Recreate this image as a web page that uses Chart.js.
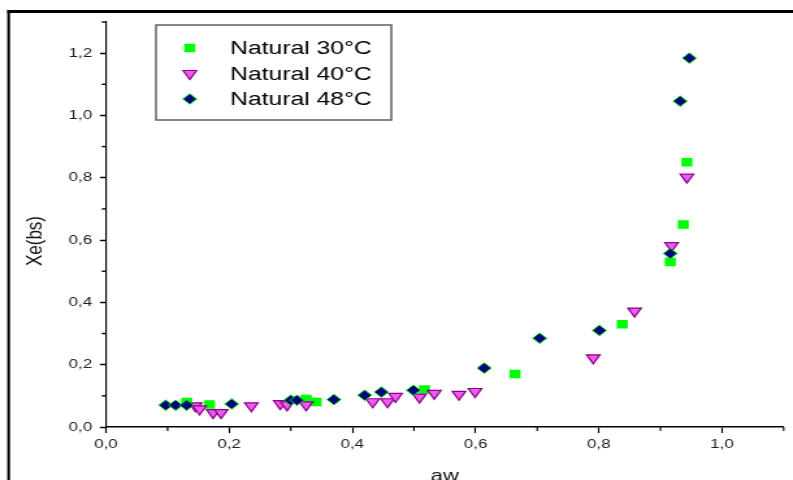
<!DOCTYPE html>
<html>
<head>
<meta charset="utf-8">
<script src="https://cdn.jsdelivr.net/npm/chart.js@4/dist/chart.umd.min.js"></script>
<style>
html,body{margin:0;padding:0;background:#fff;overflow:hidden}
#wrap{position:relative;width:793px;height:480px;overflow:hidden;background:#fff}
#c{position:absolute;left:0;top:0;transform:scaleX(1.3);transform-origin:0 0}
</style>
</head>
<body>
<div id="wrap"><canvas id="c" width="610" height="480"></canvas></div>
<script>
// ---- data ----
const seriesNames = ['Natural 30°C', 'Natural 40°C', 'Natural 48°C'];
const xTitle = 'aw';
const yTitle = 'Xe(bs)';

const aw30 = [0.131, 0.168, 0.325, 0.341, 0.517, 0.664, 0.838, 0.916, 0.937, 0.943];
const xe30 = [0.080, 0.072, 0.090, 0.080, 0.120, 0.170, 0.330, 0.530, 0.650, 0.850];

const aw40 = [0.145, 0.152, 0.174, 0.187, 0.236, 0.283, 0.294, 0.325, 0.433, 0.457, 0.470, 0.509, 0.533, 0.573, 0.599, 0.791, 0.858, 0.918, 0.943];
const xe40 = [0.068, 0.058, 0.046, 0.046, 0.068, 0.075, 0.071, 0.071, 0.081, 0.081, 0.098, 0.096, 0.108, 0.105, 0.114, 0.222, 0.372, 0.582, 0.802];

const aw48 = [0.097, 0.113, 0.131, 0.204, 0.300, 0.310, 0.370, 0.420, 0.447, 0.499, 0.614, 0.704, 0.801, 0.916, 0.932, 0.947];
const xe48 = [0.070, 0.070, 0.070, 0.074, 0.086, 0.086, 0.088, 0.102, 0.112, 0.118, 0.189, 0.285, 0.310, 0.557, 1.046, 1.184];

const xTicks = [0, 0.2, 0.4, 0.6, 0.8, 1.0];
const yTicks = [0, 0.2, 0.4, 0.6, 0.8, 1.0, 1.2];
const xMinor = [0.1, 0.3, 0.5, 0.7, 0.9, 1.1];
const yMinor = [0.1, 0.3, 0.5, 0.7, 0.9, 1.1, 1.3];

const pts = (xs, ys) => xs.map((x, i) => ({x: x, y: ys[i]}));
const fmt = v => Number(v).toFixed(1).replace('.', ',');
const FONT = "'Liberation Sans', Arial, sans-serif";

const datasets = [
  {label: seriesNames[0], data: pts(aw30, xe30), pointStyle: 'rect', pointRadius: 6, pointHoverRadius: 6,
   backgroundColor: '#00ff00', borderColor: '#22ff22', borderWidth: 0, order: 3},
  {label: seriesNames[1], data: pts(aw40, xe40), pointStyle: 'triangle', pointRotation: 180, pointRadius: 6, pointHoverRadius: 6,
   backgroundColor: '#ee5bee', borderColor: '#8b008b', borderWidth: 1.2, order: 2},
  {label: seriesNames[2], data: pts(aw48, xe48), pointStyle: 'rectRot', pointRadius: 5.3, pointHoverRadius: 5.3,
   backgroundColor: '#000080', borderColor: '#00dd00', borderWidth: 1, order: 1}
];

function drawMarker(c, ds, x, y) {
  c.save();
  c.fillStyle = ds.backgroundColor;
  c.strokeStyle = ds.borderColor;
  c.lineWidth = ds.borderWidth;
  const opts = {pointStyle: ds.pointStyle, radius: ds.pointRadius, rotation: ds.pointRotation || 0, borderWidth: ds.borderWidth};
  if (Chart.helpers && Chart.helpers.drawPoint) {
    Chart.helpers.drawPoint(c, opts, x, y);
  } else {
    c.beginPath(); c.arc(x, y, ds.pointRadius, 0, Math.PI * 2); c.fill();
  }
  c.restore();
}

const decor = {
  id: 'decor',
  beforeDraw(chart) {
    const c = chart.ctx;
    c.save();
    c.fillStyle = '#fff';
    c.fillRect(0, 0, chart.width, chart.height);
    c.restore();
  },
  afterDraw(chart) {
    const c = chart.ctx;
    const xs = chart.scales.x, ys = chart.scales.y;
    const x0 = xs.left, y0 = ys.bottom;
    c.save();
    c.strokeStyle = '#000';
    // minor ticks
    c.lineWidth = 1.15;
    xMinor.forEach(v => {
      const p = xs.getPixelForValue(v);
      c.beginPath(); c.moveTo(p, y0); c.lineTo(p, y0 + 4); c.stroke();
    });
    c.lineWidth = 1.4;
    yMinor.forEach(v => {
      const p = ys.getPixelForValue(v);
      c.beginPath(); c.moveTo(x0, p); c.lineTo(x0 - 3.2, p); c.stroke();
    });
    // axis titles
    c.fillStyle = '#111';
    c.font = '17px ' + FONT;
    c.textAlign = 'center';
    c.textBaseline = 'middle';
    c.fillText(xTitle, (xs.left + xs.right) / 2, 476);
    c.save();
    c.translate(27.5, 241);
    c.rotate(-Math.PI / 2);
    c.fillText(yTitle, 0, 0);
    c.restore();
    // outer frame
    c.fillStyle = '#000';
    c.fillRect(5.6, 10, chart.width, 3);
    c.fillRect(5.6, 10, 2.1, chart.height);
    // legend
    c.strokeStyle = '#555';
    c.lineWidth = 1.4;
    c.strokeRect(120, 25, 181, 95);
    c.font = '19px ' + FONT;
    c.textBaseline = 'middle';
    c.textAlign = 'left';
    chart.data.datasets.forEach((ds, i) => {
      const y = 48 + i * 25.5;
      drawMarker(c, ds, 146, y);
      c.fillStyle = '#000';
      c.fillText(ds.label, 177, y + 1);
    });
    c.restore();
  }
};

new Chart(document.getElementById('c'), {
  type: 'scatter',
  data: {datasets: datasets},
  options: {
    responsive: false,
    animation: false,
    devicePixelRatio: 1,
    events: [],
    layout: {padding: {top: 22, right: 3.8, bottom: 0, left: 0}},
    plugins: {legend: {display: false}, tooltip: {enabled: false}},
    scales: {
      x: {
        type: 'linear', min: 0, max: 1.1,
        afterFit(s) { s.height = 53; },
        afterBuildTicks(s) { s.ticks = xTicks.map(v => ({value: v})); },
        grid: {display: true, drawOnChartArea: false, drawTicks: true, tickLength: 6, tickColor: '#000', tickWidth: 1.15},
        border: {display: true, color: '#000', width: 1.5},
        ticks: {padding: 4, color: '#222', font: {family: FONT, size: 13}, callback: v => fmt(v), maxRotation: 0, autoSkip: false},
        title: {display: false}
      },
      y: {
        type: 'linear', min: 0, max: 1.3,
        afterFit(s) { s.width = 81.5; },
        afterBuildTicks(s) { s.ticks = yTicks.map(v => ({value: v})); },
        grid: {display: true, drawOnChartArea: false, drawTicks: true, tickLength: 4.6, tickColor: '#000', tickWidth: 1.5},
        border: {display: true, color: '#000', width: 1.15},
        ticks: {padding: 6, color: '#222', font: {family: FONT, size: 13}, callback: v => fmt(v), autoSkip: false},
        title: {display: false}
      }
    }
  },
  plugins: [decor]
});
</script>
</body>
</html>
